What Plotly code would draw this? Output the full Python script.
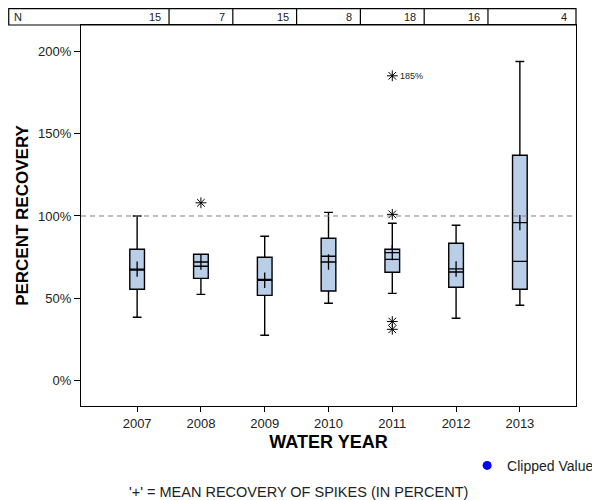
import plotly.graph_objects as go

# ---- data ----
years = [2007, 2008, 2009, 2010, 2011, 2012, 2013]
n_counts = [15, 7, 15, 8, 18, 16, 4]
q1 = [55.6, 62.2, 51.9, 54.5, 65.9, 56.8, 55.6]
median = [67.3, 69.5, 61.6, 75.6, 73.7, 66.0, 72.5]
q3 = [79.8, 76.8, 75.0, 86.5, 79.8, 83.5, 136.8]
lower_whisker = [38.6, 52.5, 27.7, 47.1, 53.1, 38.0, 45.9]
upper_whisker = [100.0, 76.8, 87.7, 102.2, 95.6, 94.4, 193.7]
means = [67.8, 72.1, 61.0, 72.1, 77.8, 67.9, 96.0]
outlier_years = [2008, 2011, 2011, 2011]
outlier_values = [108.0, 101.0, 36.0, 31.3]
labeled_outlier_year = [2011]
labeled_outlier_value = [185.0]
reference_line = 100
y_ticks = [0, 50, 100, 150, 200]
y_tick_labels = ["0%", "50%", "100%", "150%", "200%"]

FONT = "Liberation Sans, Arial, sans-serif"

fig = go.Figure()

fig.add_trace(go.Box(
    x=years, q1=q1, median=median, q3=q3,
    lowerfence=lower_whisker, upperfence=upper_whisker,
    width=0.23, whiskerwidth=0.6,
    fillcolor="rgb(185,207,232)",
    line=dict(color="black", width=1.4),
    boxpoints=False, showlegend=False, hoverinfo="skip",
))

fig.add_trace(go.Scatter(
    x=years, y=means, mode="markers",
    marker=dict(symbol="cross-thin-open", size=11, color="black",
                line=dict(color="black", width=1.3)),
    showlegend=False, hoverinfo="skip",
))

fig.add_trace(go.Scatter(
    x=outlier_years + labeled_outlier_year,
    y=outlier_values + labeled_outlier_value, mode="markers",
    marker=dict(symbol="asterisk-open", size=9, color="black",
                line=dict(color="black", width=1)),
    showlegend=False, hoverinfo="skip",
))

fig.add_trace(go.Scatter(
    x=[None], y=[None], mode="markers", name="Clipped Value",
    marker=dict(symbol="circle", size=9, color="#0000FF"),
))

for yr, v in zip(labeled_outlier_year, labeled_outlier_value):
    fig.add_annotation(x=yr, y=v, text=f"{v:.0f}%", showarrow=False,
                       xanchor="left", yanchor="middle", xshift=6,
                       font=dict(size=9, color="#222", family=FONT))

# reference line
fig.add_shape(type="line", xref="paper", x0=0, x1=1, yref="y",
              y0=reference_line, y1=reference_line,
              line=dict(color="#808080", width=1, dash="5px,4px"))

# N table above plot
table_top = 1.0428
table_mid = (1 + table_top) / 2
table_left = -0.146
fig.add_shape(type="rect", xref="paper", yref="paper", x0=table_left, x1=1,
              y0=1, y1=table_top, line=dict(color="black", width=1.2))
for yr in years[:-1]:
    fig.add_shape(type="line", xref="x", yref="paper", x0=yr + 0.5, x1=yr + 0.5,
                  y0=1, y1=table_top, line=dict(color="black", width=1.2))
fig.add_annotation(xref="paper", yref="paper", x=table_left, y=table_mid,
                   text="N", showarrow=False, xanchor="left", yanchor="middle", xshift=3,
                   font=dict(size=11, color="#222", family=FONT))
for i, (yr, n) in enumerate(zip(years, n_counts)):
    if i == len(years) - 1:
        fig.add_annotation(xref="paper", yref="paper", x=1, y=table_mid,
                           text=str(n), showarrow=False, xanchor="right", yanchor="middle",
                           xshift=-7, font=dict(size=11, color="#222", family=FONT))
    else:
        fig.add_annotation(xref="x", yref="paper", x=yr + 0.5, y=table_mid,
                           text=str(n), showarrow=False, xanchor="right", yanchor="middle",
                           xshift=-6, font=dict(size=11, color="#222", family=FONT))

fig.add_annotation(xref="paper", yref="paper", x=0.44, y=-0.226, yanchor="middle",
                   text="'+' = MEAN RECOVERY OF SPIKES (IN PERCENT)", showarrow=False,
                   font=dict(size=14.5, color="#222", family=FONT))

fig.update_layout(
    width=592, height=492,
    margin=dict(l=73, r=24, t=17, b=94, autoexpand=False),
    plot_bgcolor="white", paper_bgcolor="white",
    font=dict(family=FONT, color="#222", size=13),
    showlegend=True,
    legend=dict(x=0.78, y=-0.157, xanchor="left", yanchor="middle",
                font=dict(size=14, color="#222", family=FONT),
                itemwidth=30, bgcolor="rgba(0,0,0,0)"),
    xaxis=dict(range=[2006.12, 2013.88], tickmode="array", tickvals=years,
               ticktext=[str(y) for y in years], ticks="outside", ticklen=5,
               tickcolor="black", showline=True, linecolor="black", linewidth=1.2,
               mirror=True, showgrid=False, zeroline=False,
               tickfont=dict(size=13, color="#222"),
               title=dict(text="<b>WATER YEAR</b>", font=dict(size=18, color="black"),
                          standoff=5)),
    yaxis=dict(range=[-15.2, 215.8], tickmode="array", tickvals=y_ticks,
               ticktext=y_tick_labels, ticks="outside", ticklen=6,
               tickcolor="black", showline=True, linecolor="black", linewidth=1.2,
               mirror=True, showgrid=False, zeroline=False,
               tickfont=dict(size=13, color="#222"),
               title=dict(text="<b>PERCENT RECOVERY</b>", font=dict(size=17, color="black"),
                          standoff=5)),
)

fig.write_html("out.html")
